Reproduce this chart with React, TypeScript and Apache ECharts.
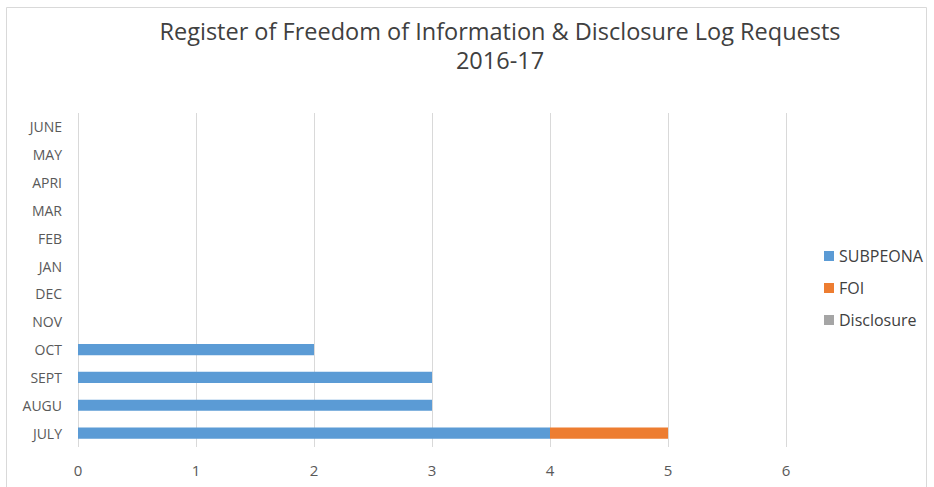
import React, { useEffect, useRef } from "react";
import * as echarts from "echarts";

const categories = ["JULY", "AUGU", "SEPT", "OCT", "NOV", "DEC", "JAN", "FEB", "MAR", "APRI", "MAY", "JUNE"];
const subpeona = [4, 3, 3, 2, 0, 0, 0, 0, 0, 0, 0, 0];
const foi = [1, 0, 0, 0, 0, 0, 0, 0, 0, 0, 0, 0];
const disclosure = [0, 0, 0, 0, 0, 0, 0, 0, 0, 0, 0, 0];
const xTicks = [0, 1, 2, 3, 4, 5, 6];

const FONT = "'Open Sans', 'Noto Sans', sans-serif";

export default function App() {
  const ref = useRef<HTMLDivElement>(null);
  useEffect(() => {
    if (!ref.current) return;
    const chart = echarts.init(ref.current, null, { renderer: "svg" });
    const barSeries = (name: string, data: number[], color: string) => ({
      name,
      type: "bar",
      stack: "total",
      data,
      barWidth: "40%",
      itemStyle: { color },
    });
    chart.setOption({
      animation: false,
      backgroundColor: "#ffffff",
      graphic: [
        {
          type: "rect",
          shape: { x: 6.5, y: 7.5, width: 920, height: 486 },
          style: { fill: "none", stroke: "#d9d9d9", lineWidth: 1 },
          silent: true,
        },
      ],
      title: {
        text: "Register of Freedom of Information & Disclosure Log Requests\n2016-17",
        left: 495,
        textAlign: "center",
        top: 11,
        textStyle: {
          fontFamily: FONT,
          fontSize: 23.5,
          fontWeight: "normal",
          color: "#404040",
          lineHeight: 29,
        },
      },
      legend: {
        orient: "vertical",
        left: 819,
        top: 243,
        itemWidth: 10,
        itemHeight: 10,
        itemGap: 16,
        icon: "rect",
        textStyle: { fontFamily: FONT, fontSize: 16, color: "#404040" },
        data: ["SUBPEONA", "FOI", "Disclosure"],
      },
      grid: { left: 78, right: 148, top: 113, bottom: 40, containLabel: false },
      xAxis: {
        type: "value",
        min: xTicks[0],
        max: xTicks[xTicks.length - 1],
        interval: 1,
        axisLine: { show: false },
        axisTick: { show: false },
        splitLine: { lineStyle: { color: "#d9d9d9", width: 1 } },
        axisLabel: { fontFamily: FONT, fontSize: 15, color: "#595959", margin: 15 },
      },
      yAxis: {
        type: "category",
        data: categories,
        axisLine: { show: false },
        axisTick: { show: false },
        axisLabel: { fontFamily: FONT, fontSize: 14, color: "#595959", margin: 16 },
      },
      series: [
        barSeries("SUBPEONA", subpeona, "#5B9BD5"),
        barSeries("FOI", foi, "#ED7D31"),
        barSeries("Disclosure", disclosure, "#A5A5A5"),
      ],
    });
    return () => chart.dispose();
  }, []);
  return (
    <div
      ref={ref}
      style={{ position: "fixed", left: 0, top: 0, width: 934, height: 487, background: "#fff" }}
    />
  );
}
